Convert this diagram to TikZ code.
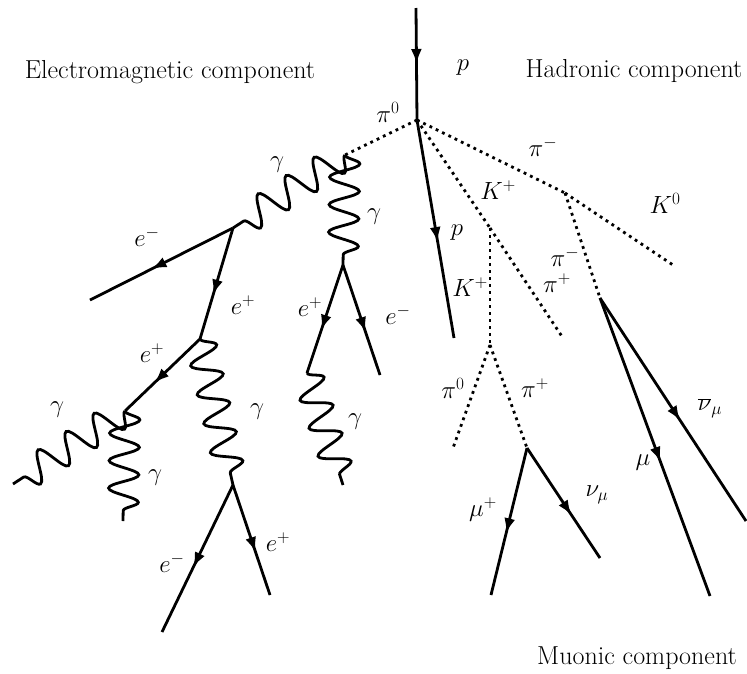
\documentclass[tikz,border=0pt]{standalone}
\usetikzlibrary{decorations.pathmorphing,decorations.markings,arrows.meta}
\begin{document}
\begin{tikzpicture}[x=1pt,y=-1pt,
  every node/.style={font=\fontsize{26}{30}\selectfont, inner sep=0pt},
  fermion/.style={line width=2.8pt, postaction={decorate},
    decoration={markings, mark=at position #1 with {\arrow{Latex[length=15pt,width=11pt]}}}},
  fermion/.default=0.55,
  scalar/.style={line width=2.8pt, dash pattern=on 2.8pt off 4.2pt},
  photon/.style={line width=2.8pt, decorate,
    decoration={snake, amplitude=15pt, segment length=#1}},
  photon/.default=30pt,
]
\useasboundingbox (0,0) rectangle (747,673);
% vertices
\coordinate (ptop) at (416,8);
\coordinate (v0) at (417,120);
\coordinate (pi0e) at (345,155);
\coordinate (g1e) at (233,228);
\coordinate (g2e) at (343,265);
\coordinate (em1) at (90,300);
\coordinate (ep1) at (200,339);
\coordinate (ep2) at (307,373);
\coordinate (em2) at (380,375);
\coordinate (g3e) at (343,485);
\coordinate (ep3) at (125,411);
\coordinate (g4e) at (233,485);
\coordinate (g5e) at (13,484);
\coordinate (g6e) at (123,521);
\coordinate (em3) at (162,632);
\coordinate (ep4) at (270,595);
\coordinate (pend) at (454,338);
\coordinate (kv) at (490,228);
\coordinate (piv) at (565,193);
\coordinate (k0e) at (673,265);
\coordinate (mv) at (600,298);
\coordinate (k2v) at (490,345);
\coordinate (pipe) at (563,338);
\coordinate (pi0f) at (453,448);
\coordinate (pipv) at (527,448);
\coordinate (mupe) at (491,595);
\coordinate (nue) at (600,558);
\coordinate (mue) at (710,596);
\coordinate (nube) at (746,521);
% component titles
\node (tem) at (170,72) {Electromagnetic component};
\node (thad) at (634,71) {Hadronic component};
\node (tmu) at (637,658) {Muonic component};
% primary
\draw[fermion=0.5] (ptop) -- (v0);
\draw[scalar] (v0) -- (pi0e);
\draw[photon=33.4pt] (pi0e) -- (g1e);
\draw[photon=27.5pt] (pi0e) -- (g2e);
\draw[fermion=0.57] (g1e) -- (em1);
\draw[fermion=0.6] (g1e) -- (ep1);
\draw[fermion=0.6] (g2e) -- (ep2);
\draw[fermion=0.61] (g2e) -- (em2);
\draw[photon=29.4pt] (ep2) -- (g3e);
\draw[fermion=0.61] (ep1) -- (ep3);
\draw[photon=29.7pt] (ep1) -- (g4e);
\draw[photon=33.4pt] (ep3) -- (g5e);
\draw[photon=27.5pt] (ep3) -- (g6e);
\draw[fermion=0.56] (g4e) -- (em3);
\draw[fermion=0.61] (g4e) -- (ep4);
% hadronic
\draw[fermion=0.56] (v0) -- (pend);
\draw[scalar] (v0) -- (kv);
\draw[scalar] (v0) -- (piv);
\draw[scalar] (piv) -- (k0e);
\draw[scalar] (piv) -- (mv);
\draw[scalar] (kv) -- (k2v);
\draw[scalar] (kv) -- (pipe);
\draw[scalar] (k2v) -- (pi0f);
\draw[scalar] (k2v) -- (pipv);
% muonic
\draw[fermion=0.58] (pipv) -- (mupe);
\draw[fermion=0.61] (pipv) -- (nue);
\draw[fermion=0.55] (mv) -- (mue);
\draw[fermion=0.55] (mv) -- (nube);
% labels
\node (lp1) at (463,68) {$p$};
\node (lpi0a) at (388,112) {$\pi^0$};
\node (lpima) at (543,147) {$\pi^-$};
\node (lkpa) at (498,190) {$K^+$};
\node (lk0) at (665,203) {$K^0$};
\node (lp2) at (457,233) {$p$};
\node (lpimb) at (565,257) {$\pi^-$};
\node (lkpb) at (470,287) {$K^+$};
\node (lpipa) at (557,283) {$\pi^+$};
\node (lg1) at (277,165) {$\gamma$};
\node (lg2) at (374,217) {$\gamma$};
\node (lem1) at (147,237) {$e^-$};
\node (lep1) at (243,305) {$e^+$};
\node (lep2) at (310,307) {$e^+$};
\node (lem2) at (398,315) {$e^-$};
\node (lep3) at (152,353) {$e^+$};
\node (lg5) at (57,410) {$\gamma$};
\node (lg6) at (155,478) {$\gamma$};
\node (lg4) at (257,412) {$\gamma$};
\node (lg3) at (355,422) {$\gamma$};
\node (lem3) at (172,563) {$e^-$};
\node (lep4) at (278,542) {$e^+$};
\node (lpi0b) at (453,388) {$\pi^0$};
\node (lpipb) at (535,388) {$\pi^+$};
\node (lnub) at (710,408) {$\overline{\nu}_\mu$};
\node (lmu) at (643,463) {$\mu$};
\node (lmup) at (483,510) {$\mu^+$};
\node (lnu) at (597,495) {$\nu_\mu$};
\end{tikzpicture}
\end{document}
